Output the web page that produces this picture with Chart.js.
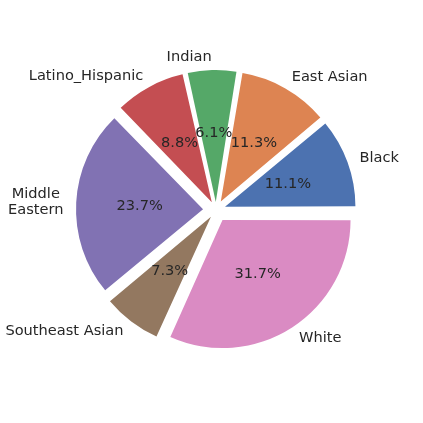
<!DOCTYPE html>
<html>
<head>
<meta charset="utf-8">
<script src="https://cdn.jsdelivr.net/npm/chart.js@4"></script>
<style>
  html, body { margin: 0; padding: 0; background: #fff; }
  #wrap { width: 423px; height: 423px; }
</style>
</head>
<body>
<div id="wrap"><canvas id="raceChart" width="423" height="423"></canvas></div>
<script>
// matplotlib order: counter-clockwise from 3 o'clock
const labels = ['Black', 'East Asian', 'Indian', 'Latino_Hispanic', 'Middle\nEastern', 'Southeast Asian', 'White'];
const shares = [11.1, 11.3, 6.1, 8.8, 23.7, 7.3, 31.7];
const colors = ['#4C72B0', '#DD8452', '#55A868', '#C44E52', '#8172B3', '#937860', '#DA8BC3'];

// Chart.js draws clockwise, so flip the order and start at 3 o'clock
const cjLabels = labels.slice().reverse();
const cjValues = shares.slice().reverse();
const cjColors = colors.slice().reverse();

const EXPLODE = 13;   // wanted shift of each wedge, px
const FONT = '14.6px "DejaVu Sans", sans-serif';
const TEXT = '#262626';

// Chart.js shifts an arc by offset/4 * (2 - sin(min(PI, circumference)))
const total = cjValues.reduce((a, b) => a + b, 0);
const cjOffsets = cjValues.map(v => {
  const circ = v / total * Math.PI * 2;
  return EXPLODE * 4 / (2 - Math.sin(Math.min(Math.PI, circ)));
});

const pieLabels = {
  id: 'pieLabels',
  afterDatasetsDraw(chart) {
    const c = chart.ctx;
    const meta = chart.getDatasetMeta(0);
    c.save();
    c.font = FONT;
    c.fillStyle = TEXT;
    c.textBaseline = 'middle';
    meta.data.forEach((arc, i) => {
      const p = arc.getProps(['x', 'y', 'startAngle', 'endAngle', 'outerRadius'], true);
      const mid = (p.startAngle + p.endAngle) / 2;
      const cx = p.x + Math.cos(mid) * EXPLODE;
      const cy = p.y + Math.sin(mid) * EXPLODE;

      // percentage inside the wedge
      c.textAlign = 'center';
      const pr = p.outerRadius * 0.5;
      c.fillText(cjValues[i].toFixed(1) + '%', cx + Math.cos(mid) * pr, cy + Math.sin(mid) * pr);

      // category label outside
      const lr = p.outerRadius * 1.1;
      const lx = cx + Math.cos(mid) * lr;
      const ly = cy + Math.sin(mid) * lr;
      const lines = cjLabels[i].split('\n');
      const lh = 16;
      const w = Math.max(...lines.map(s => c.measureText(s).width));
      const right = Math.cos(mid) > 0;
      const centerX = right ? lx + w / 2 : lx - w / 2;
      lines.forEach((s, k) => {
        c.fillText(s, centerX, ly + (k - (lines.length - 1) / 2) * lh);
      });
    });
    c.restore();
  }
};

new Chart(document.getElementById('raceChart'), {
  type: 'pie',
  data: {
    labels: cjLabels,
    datasets: [{
      data: cjValues,
      backgroundColor: cjColors,
      borderWidth: 0,
      offset: cjOffsets
    }]
  },
  options: {
    responsive: false,
    animation: false,
    rotation: 90,
    radius: 127,
    layout: { padding: { left: 9, right: 0, top: 0, bottom: 3 } },
    plugins: {
      legend: { display: false },
      tooltip: { enabled: false }
    }
  },
  plugins: [pieLabels]
});
</script>
</body>
</html>
